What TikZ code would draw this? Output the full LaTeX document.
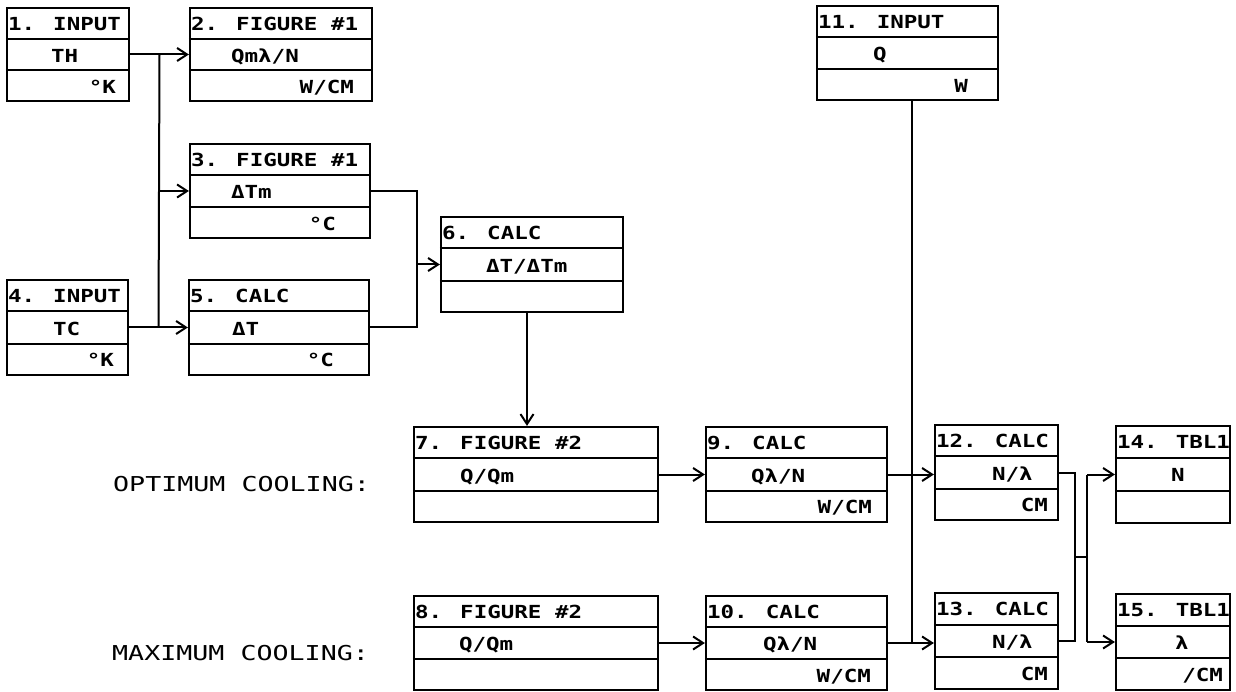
\documentclass[tikz,border=0pt]{standalone}
\usepackage{fontspec}
\newfontfamily\plotf{DejaVu Sans Mono}[FakeStretch=1.25]
\newfontfamily\labf{DejaVu Sans Mono}[FakeStretch=1.3]
\usetikzlibrary{arrows.meta,calc}
\tikzset{
  blk/.style={draw, line width=2.2pt, rectangle, inner sep=0pt},
  div/.style={line width=2.2pt},
  ttl/.style={anchor=base west, inner sep=0pt, font=\plotf\bfseries\fontsize{18}{18}\selectfont},
  unt/.style={anchor=base east, inner sep=0pt, font=\plotf\bfseries\fontsize{18}{18}\selectfont},
  lab/.style={anchor=west, inner sep=0pt, font=\labf\fontsize{20.5}{20.5}\selectfont},
  conn/.style={line width=2pt},
  arr/.style={conn, -{Straight Barb[length=10pt,width=13pt,line width=2pt]}},
}
% box: name, left, top, right, bottom
\newcommand\blk[5]{%
  \node[blk, minimum width={#4-#2}, minimum height={#5-#3}] (#1) at ({(#2+#4)/2},{(#3+#5)/2}) {};
  \draw[div] ($(#1.north west)!1/3!(#1.south west)$) -- ($(#1.north east)!1/3!(#1.south east)$);
  \draw[div] ($(#1.north west)!2/3!(#1.south west)$) -- ($(#1.north east)!2/3!(#1.south east)$);
}
% texts: name, title, mid offset, mid text, unit offset, unit
\newcommand\rows[6]{%
  \node[ttl] (#1-t) at ($(#1.north west)+(2,24)$) {#2};
  \node[ttl] (#1-m) at ($(#1.north west)!1/3!(#1.south west)+(#3,24)$) {#4};
  \node[unt] (#1-u) at ($(#1.north east)!2/3!(#1.south east)+(-#5,23)$) {#6};
}
\begin{document}
\begin{tikzpicture}[x=1pt,y=-1pt]
\useasboundingbox (0,0) rectangle (1236,692);

\blk{b1}{7}{8}{129}{101}
\blk{b2}{190}{8}{372}{101}
\blk{b3}{190}{144}{370}{238}
\blk{b4}{7}{280}{128}{375}
\blk{b5}{189}{280}{369}{375}
\blk{b6}{441}{217}{623}{312}
\blk{b7}{414}{427}{658}{522}
\blk{b8}{414}{596}{658}{690}
\blk{b9}{706}{427}{887}{522}
\blk{b10}{706}{596}{887}{690}
\blk{b11}{817}{6}{998}{100}
\blk{b12}{935}{425}{1058}{520}
\blk{b13}{935}{593}{1058}{689}
\blk{b14}{1116}{426}{1230}{523}
\blk{b15}{1116}{594}{1230}{690}

\rows{b1}{1. INPUT}{45}{TH}{14}{°K}
\rows{b2}{2. FIGURE \#1}{42}{Qmλ/N}{19}{W/CM}
\rows{b3}{3. FIGURE \#1}{42}{ΔTm}{35}{°C}
\rows{b4}{4. INPUT}{47}{TC}{15}{°K}
\rows{b5}{5. CALC}{44}{ΔT}{36}{°C}
\rows{b6}{6. CALC}{46}{ΔT/ΔTm}{10}{}
\rows{b7}{7. FIGURE \#2}{47}{Q/Qm}{10}{}
\rows{b8}{8. FIGURE \#2}{46}{Q/Qm}{10}{}
\rows{b9}{9. CALC}{46}{Qλ/N}{16}{W/CM}
\rows{b10}{10. CALC}{58}{Qλ/N}{17}{W/CM}
\rows{b11}{11. INPUT}{57}{Q}{31}{W}
\rows{b12}{12. CALC}{58}{N/λ}{11}{CM}
\rows{b13}{13. CALC}{58}{N/λ}{11}{CM}
\rows{b14}{14. TBL1}{56}{N}{10}{}
\rows{b15}{15. TBL1}{60}{λ}{8}{/CM}

\node[lab] (opt) at (113,484) {OPTIMUM COOLING:};
\node[lab] (max) at (112,653) {MAXIMUM COOLING:};

% connectors
\draw[arr] (b1.east) -- (b2.west);
\coordinate (j1) at ($(b1.east)!0.5!(b2.west)$);
\coordinate (j2) at ($(b4.east)!0.5!(b5.west)$);
\draw[conn] (j1) -- (j2);
\draw[arr] (j1 |- b3.west) -- (b3.west);
\draw[arr] (b4.east) -- (b5.west);

\coordinate (m1) at (417,0);
\draw[conn] (b3.east) -| (m1 |- b5.east) -- (b5.east);
\draw[arr] (m1 |- b6.west) -- (b6.west);

\draw[arr] ([xshift=-5pt]b6.south) -- ([xshift=-5pt]b6.south |- b7.north);
\draw[arr] (b7.east) -- (b9.west);
\draw[arr] (b8.east) -- (b10.west);
\draw[arr] (b9.east) -- (b9.east -| b12.west);
\draw[arr] (b10.east) -- (b10.east -| b13.west);
\draw[conn] ([xshift=4pt]b11.south) -- ([xshift=4pt]b11.south |- b10.east);

\coordinate (m2) at (1075,0);
\coordinate (m3) at (1087,0);
\draw[conn] (b12.east) -| (m2 |- b13.east) -- (b13.east);
\coordinate (mid) at ($(b12.east)!0.5!(b13.east)$);
\draw[conn] (m2 |- mid) -- (m3 |- mid);
\draw[conn] (m3 |- b14.west) -- (m3 |- b15.west);
\draw[arr] (m3 |- b14.west) -- (b14.west);
\draw[arr] (m3 |- b15.west) -- (b15.west);
\end{tikzpicture}
\end{document}
